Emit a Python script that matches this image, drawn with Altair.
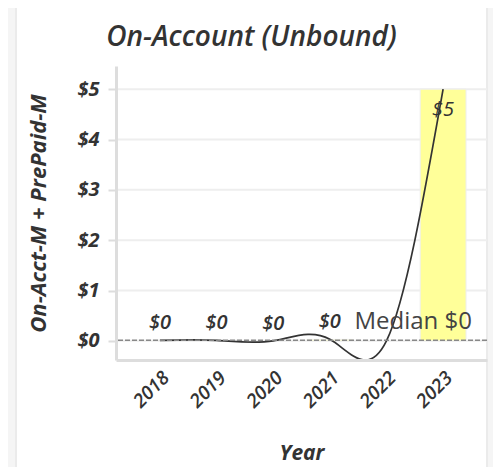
import altair as alt
import pandas as pd
import numpy as np

years = ["2018", "2019", "2020", "2021", "2022", "2023"]
values = [0.01, 0.01, 0.0, 0.03, 0.0, 5.0]
show_label = [True, True, True, True, False, True]
grid_values = [0, 1, 2, 3, 4, 5]
chart_title = "On-Account (Unbound)"

median_value = float(np.median(values))

W, H = 371, 294
FONT = "Open Sans"

df = pd.DataFrame({"Year": years, "Value": values, "show": show_label})
df_lab = df[df["show"]]
df_small = df_lab[df_lab["Value"] < max(values)]
df_big = df_lab[df_lab["Value"] >= max(values)]
grid_df = pd.DataFrame({"g": grid_values})
med_df = pd.DataFrame({"m": [median_value], "label": [f"Median ${median_value:.0f}"]})
card_df = pd.DataFrame({"c": [0]})
title_df = pd.DataFrame({"t": [chart_title]})

yscale = alt.Scale(domain=[-0.38, 5.46], nice=False, zero=False)
xscale = alt.Scale(paddingInner=0.19, paddingOuter=0.37)

x_enc = alt.X("Year:N", scale=xscale, sort=years,
              axis=alt.Axis(title="Year", labelAngle=-45, ticks=False, grid=False,
                            domainColor="#dddddd", domainWidth=3,
                            labelFont=FONT, labelFontSize=19, labelFontStyle="italic",
                            labelFontWeight=600, labelColor="#333333", labelPadding=8,
                            titleFont=FONT, titleFontSize=21, titleFontStyle="italic",
                            titleFontWeight="bold", titleColor="#333333", titlePadding=31,
                            zindex=1))
y_enc = alt.Y("Value:Q", scale=yscale,
              axis=alt.Axis(title="On-Acct-M + PrePaid-M", values=grid_values, format="$.0f",
                            grid=False, domainColor="#dddddd", domainWidth=3,
                            tickColor="#dddddd", tickSize=8, tickWidth=2,
                            labelFont=FONT, labelFontSize=20, labelFontStyle="italic",
                            labelFontWeight="bold", labelColor="#333333", labelPadding=9,
                            titleFont=FONT, titleFontSize=22, titleFontStyle="italic",
                            titleFontWeight="bold", titleColor="#333333", titlePadding=26,
                            zindex=1))

shadow = alt.Chart(card_df).mark_rect(color="#ebebeb").encode(
    x=alt.value(-101), x2=alt.value(W + 1), y=alt.value(-60), y2=alt.value(H + 120))
card = alt.Chart(card_df).mark_rect(color="#ffffff").encode(
    x=alt.value(-99), x2=alt.value(W - 1), y=alt.value(-60), y2=alt.value(H + 120))

title_mark = alt.Chart(title_df).mark_text(font=FONT, fontSize=28, fontStyle="italic", fontWeight=600,
                                           color="#333333", align="center", baseline="alphabetic").encode(
    x=alt.value(135.5), y=alt.value(-20), text="t:N")

grid = alt.Chart(grid_df).mark_rule(color="#eeeeee", strokeWidth=2).encode(
    y=alt.Y("g:Q", scale=yscale))

bars = alt.Chart(df).mark_bar(color="#ffff99", stroke="#eeeeee", strokeWidth=1).encode(
    x=x_enc, y=y_enc)

line = alt.Chart(df).mark_line(color="#333333", strokeWidth=1.7, interpolate="natural").encode(
    x=alt.X("Year:N", scale=xscale, sort=years), y=alt.Y("Value:Q", scale=yscale))

median_rule = alt.Chart(med_df).mark_rule(color="#888888", strokeWidth=1.5, strokeDash=[5, 2]).encode(
    y=alt.Y("m:Q", scale=yscale))

median_text = alt.Chart(med_df).mark_text(font=FONT, fontSize=24, color="#444444",
                                          align="right", baseline="alphabetic", dy=-11).encode(
    x=alt.value(W - 15), y=alt.Y("m:Q", scale=yscale), text="label:N")

lab_small = alt.Chart(df_small).mark_text(font=FONT, fontSize=20, fontStyle="italic", fontWeight=600,
                                          color="#333333", baseline="alphabetic", dy=-11).encode(
    x=alt.X("Year:N", scale=xscale, sort=years), y=alt.Y("Value:Q", scale=yscale),
    text=alt.Text("Value:Q", format="$.0f"))

lab_big = alt.Chart(df_big).mark_text(font=FONT, fontSize=20, fontStyle="italic", fontWeight=500,
                                      color="#333333", baseline="alphabetic", dy=27).encode(
    x=alt.X("Year:N", scale=xscale, sort=years), y=alt.Y("Value:Q", scale=yscale),
    text=alt.Text("Value:Q", format="$.0f"))

chart = alt.layer(shadow, card, title_mark, grid, bars, line, median_rule, median_text,
                  lab_small, lab_big).properties(
    width=W, height=H,
    background="#f5f5f5",
    autosize=alt.AutoSizeParams(type="none"),
    padding={"left": 108, "top": 58, "right": 6, "bottom": 107},
).configure_view(stroke=None)

chart.save("out.html", embed_options={"renderer": "svg", "actions": False})
